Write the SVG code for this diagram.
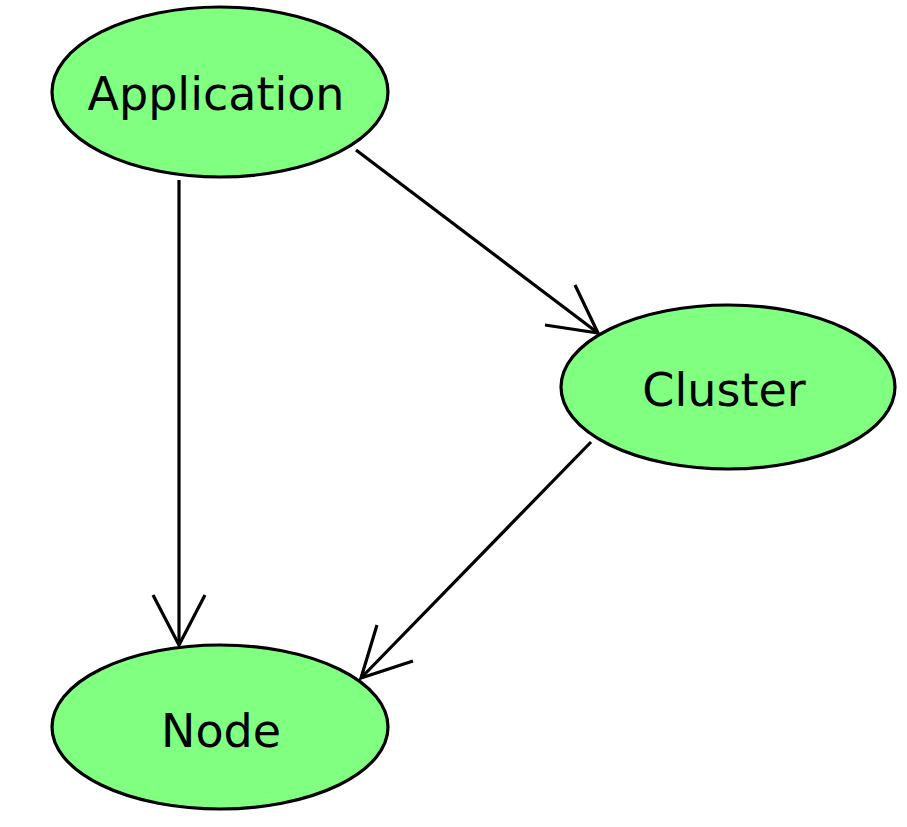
<svg xmlns="http://www.w3.org/2000/svg" width="907" height="827" viewBox="0 0 907 827">
<style>
.node ellipse{fill:#80ff80;stroke:#000;stroke-width:3.2}
.node text{font-family:"DejaVu Sans",sans-serif;font-size:46px;fill:#000;text-anchor:middle}
#edges path{fill:none;stroke:#000;stroke-width:3.2}
</style>
<rect width="907" height="827" fill="#fff"/>
<g id="edges">
<path d="M179,180 L179,645"/>
<path d="M153,595 L179,645 L205,595"/>
<path d="M356,150 L598,333"/>
<path d="M575,285 L598,333 L545,325"/>
<path d="M591,442 L361,678"/>
<path d="M377,625 L361,678 L413,661"/>
</g>
<g id="application" class="node">
<ellipse cx="220" cy="92" rx="168" ry="85"/>
<text x="216" y="110">Application</text>
</g>
<g id="cluster" class="node">
<ellipse cx="728" cy="387" rx="167" ry="82"/>
<text x="724" y="406">Cluster</text>
</g>
<g id="node" class="node">
<ellipse cx="220" cy="727" rx="168" ry="82"/>
<text x="221" y="747">Node</text>
</g>
</svg>
